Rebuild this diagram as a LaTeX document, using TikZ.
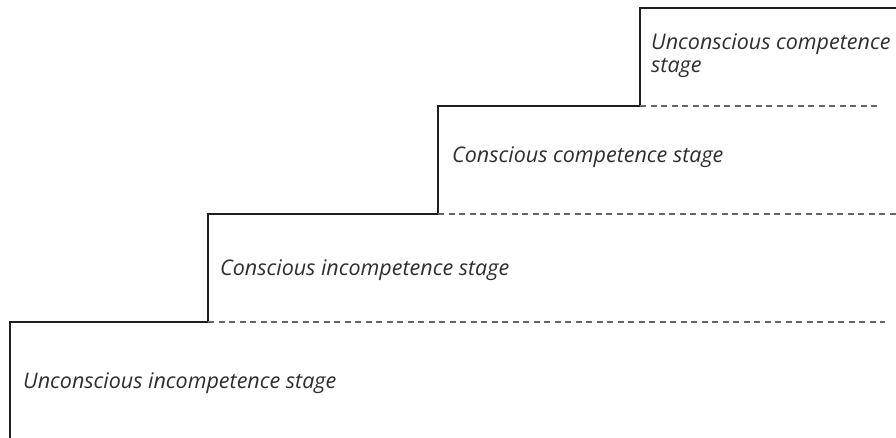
\documentclass[tikz,border=0pt]{standalone}
\usepackage{fontspec}
\setmainfont{Open Sans}
\begin{document}
\begin{tikzpicture}[x=1pt,y=-1pt,
  stair/.style={line width=2.8pt, draw=black!88, line cap=rect},
  guide/.style={line width=1.2pt, draw=black!60, dash pattern=on 6pt off 4.5pt},
  lbl/.style={anchor=west, inner sep=0pt, font=\itshape\fontsize{21.5}{23}\selectfont, text=black!82, align=left}]
\useasboundingbox (0,0) rectangle (896,438);
\coordinate (s0) at (10,438);
\coordinate (c1) at (10,322);
\coordinate (c2) at (208,322);
\coordinate (c3) at (208,214);
\coordinate (c4) at (438,214);
\coordinate (c5) at (438,106);
\coordinate (c6) at (640,106);
\coordinate (c7) at (640,8);
\coordinate (c8) at (897,8);
\draw[stair] (s0) -- (c1) -- (c2) -- (c3) -- (c4) -- (c5) -- (c6) -- (c7) -- (c8);
\coordinate (d1) at (885,322);
\coordinate (d2) at (896,214);
\coordinate (d3) at (880,106);
\draw[guide] (c2) -- (d1);
\draw[guide] (c4) -- (d2);
\draw[guide] (c6) -- (d3);
\node[lbl] (t1) at (23,383) {Unconscious incompetence stage};
\node[lbl] (t2) at (220,270) {Conscious incompetence stage};
\node[lbl] (t3) at (452,157) {Conscious competence stage};
\node[lbl] (t4) at (651,56) {Unconscious competence\\stage};
\end{tikzpicture}
\end{document}
